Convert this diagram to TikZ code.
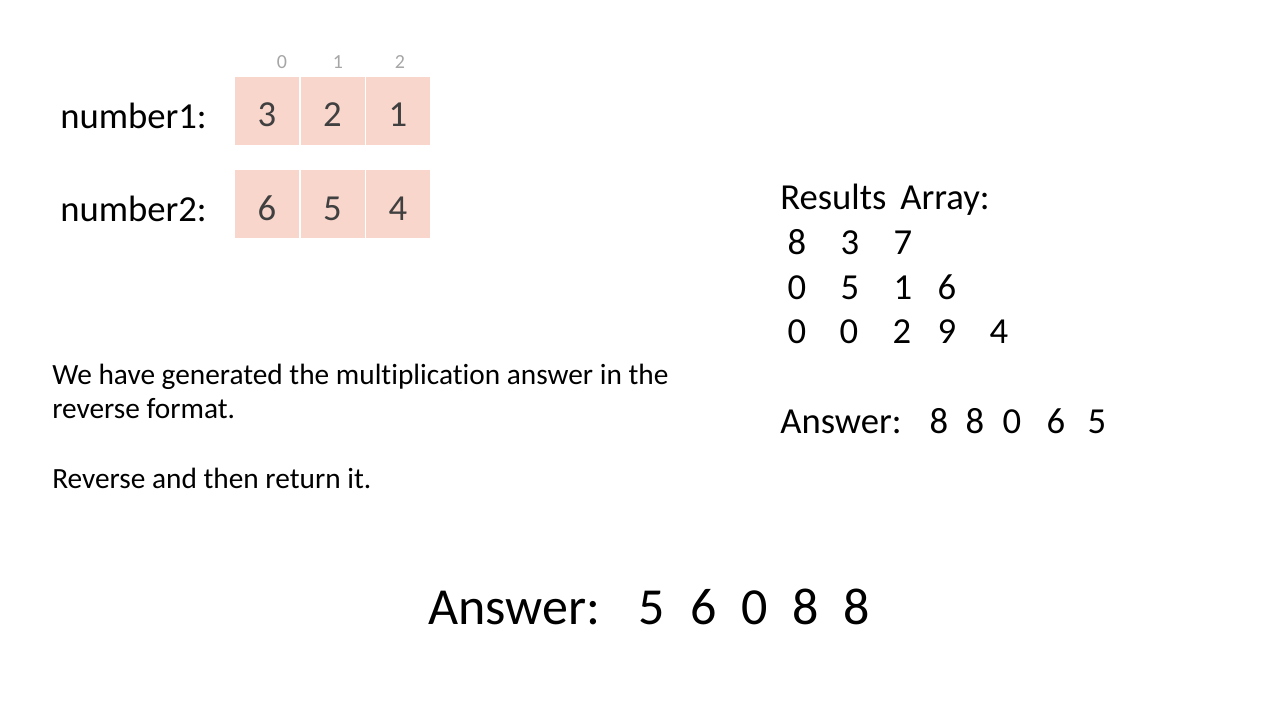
\documentclass[tikz,border=0pt]{standalone}
\usepackage{fontspec}
\setmainfont[Ligatures={NoCommon}]{Carlito}
\definecolor{cellfill}{HTML}{F8D6CC}
\definecolor{celltext}{HTML}{404040}
\definecolor{idxgray}{HTML}{A6A6A6}
\begin{document}
\begin{tikzpicture}[x=0.75pt,y=-0.75pt,
  big/.style={inner sep=0pt, font=\fontsize{27.5}{33}\selectfont},
  lbl/.style={big, anchor=base west},
  dig/.style={big, anchor=base},
  cell/.style={fill=cellfill, draw=white, line width=0.75pt, minimum width=48.75pt, minimum height=51.75pt, inner sep=0pt},
  celldig/.style={big, anchor=base, text=celltext},
  idx/.style={inner sep=0pt, anchor=base, text=idxgray, font=\fontsize{15}{18}\selectfont},
  body/.style={inner sep=0pt, anchor=base west, font=\fontsize{22}{26}\selectfont},
  huge/.style={inner sep=0pt, font=\fontsize{39}{46}\selectfont}]
\useasboundingbox[fill=white] (0,0) rectangle (1280,720);

% index labels
\node[idx] (i0) at (282,69) {0};
\node[idx] (i1) at (338,69) {1};
\node[idx] (i2) at (400,69) {2};

% number1
\node[lbl] (n1) at (60,129) {number1:};
\node[cell] (c10) at (267,111.5) {};
\node[cell] (c11) at (332.5,111.5) {};
\node[cell] (c12) at (398,111.5) {};
\node[celldig] (d10) at (267,127) {3};
\node[celldig] (d11) at (332.5,127) {2};
\node[celldig] (d12) at (398,127) {1};

% number2
\node[lbl] (n2) at (60,222) {number2:};
\node[cell] (c20) at (267,204.5) {};
\node[cell] (c21) at (332.5,204.5) {};
\node[cell] (c22) at (398,204.5) {};
\node[celldig] (d20) at (267,221) {6};
\node[celldig] (d21) at (332.5,221) {5};
\node[celldig] (d22) at (398,221) {4};

% body text
\node[body] (t1) at (52,384) {We have generated the multiplication answer in the};
\node[body] (t2) at (52,418) {reverse format.};
\node[body] (t3) at (52,488) {Reverse and then return it.};

% results array
\node[lbl] (ra) at (780,210) {Results\hspace{0.38em}Array:};
\node[dig] (r10) at (797,254) {8};
\node[dig] (r11) at (850,254) {3};
\node[dig] (r12) at (903,254) {7};
\node[dig] (r20) at (797,299) {0};
\node[dig] (r21) at (850,299) {5};
\node[dig] (r22) at (903,299) {1};
\node[dig] (r23) at (947,299) {6};
\node[dig] (r30) at (797,343) {0};
\node[dig] (r31) at (849,343) {0};
\node[dig] (r32) at (902,343) {2};
\node[dig] (r33) at (947,343) {9};
\node[dig] (r34) at (999,343) {4};

% answer (reverse)
\node[lbl] (ans1) at (780,433) {Answer:};
\node[dig] (a0) at (939,433) {8};
\node[dig] (a1) at (975,433) {8};
\node[dig] (a2) at (1012,433) {0};
\node[dig] (a3) at (1056,433) {6};
\node[dig] (a4) at (1097,433) {5};

% final answer
\node[huge, anchor=base west] (ans2) at (428,624) {Answer:};
\node[huge, anchor=base] (b0) at (652,624) {5};
\node[huge, anchor=base] (b1) at (704,624) {6};
\node[huge, anchor=base] (b2) at (755,624) {0};
\node[huge, anchor=base] (b3) at (806,624) {8};
\node[huge, anchor=base] (b4) at (857,624) {8};
\end{tikzpicture}
\end{document}
